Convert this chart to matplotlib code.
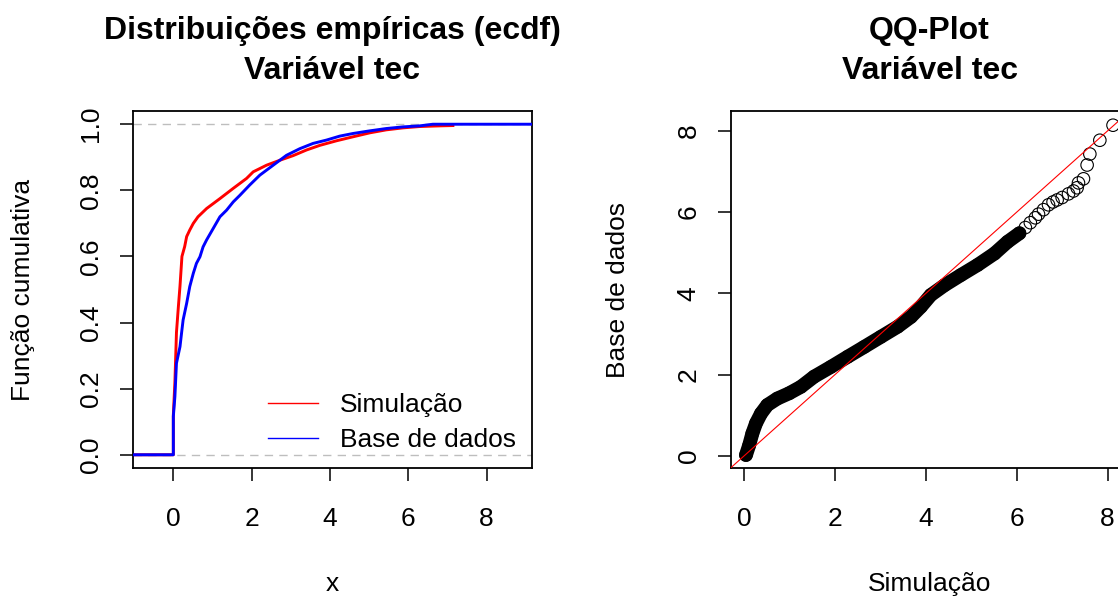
import numpy as np
import matplotlib.pyplot as plt

plt.rcParams['font.family'] = ['Liberation Sans', 'DejaVu Sans']

# ecdf curves (x, F(x)) for the simulated sample and the database sample
sim_x = [0.00, 0.00, 0.04, 0.08, 0.13, 0.17, 0.22, 0.29, 0.34, 0.42, 0.51, 0.63,
         0.85, 1.19, 1.53, 1.87, 2.04, 2.38, 2.72, 3.06, 3.40, 3.74, 4.17, 4.59,
         5.02, 5.44, 5.87, 6.29, 6.80, 7.14]
sim_F = [0.00, 0.12, 0.22, 0.37, 0.45, 0.51, 0.60, 0.63, 0.66, 0.68, 0.70, 0.72,
         0.745, 0.775, 0.806, 0.836, 0.856, 0.876, 0.891, 0.905, 0.922, 0.936, 0.950, 0.962,
         0.974, 0.983, 0.989, 0.993, 0.995, 0.996]

base_x = [0.00, 0.00, 0.04, 0.08, 0.17, 0.21, 0.25, 0.34, 0.42, 0.51, 0.59, 0.68,
          0.76, 0.85, 1.02, 1.19, 1.36, 1.53, 1.70, 1.95, 2.21, 2.55, 2.89, 3.23,
          3.57, 3.91, 4.25, 4.59, 5.02, 5.44, 5.87, 6.29, 6.63]
base_F = [0.00, 0.116, 0.176, 0.277, 0.327, 0.368, 0.408, 0.458, 0.509, 0.549, 0.579, 0.599,
          0.629, 0.650, 0.685, 0.720, 0.740, 0.765, 0.785, 0.816, 0.846, 0.876, 0.906, 0.926,
          0.942, 0.952, 0.964, 0.972, 0.980, 0.987, 0.992, 0.995, 1.0]

# quantile pairs for the qq-plot (simulation vs database)
qq_sim = [0.04, 0.11, 0.18, 0.26, 0.37, 0.51, 0.73, 0.99, 1.25, 1.54, 1.91, 2.28,
          2.64, 3.01, 3.38, 3.67, 3.89, 4.11, 4.41, 4.77, 5.14, 5.51, 5.80, 6.06,
          6.19, 6.30, 6.41, 6.48, 6.59, 6.70, 6.80, 6.89, 7.00, 7.14, 7.25, 7.33,
          7.36, 7.47, 7.55, 7.61, 7.83, 8.12]
qq_base = [0.02, 0.26, 0.55, 0.80, 1.04, 1.25, 1.41, 1.54, 1.70, 1.95, 2.19, 2.44,
           2.68, 2.93, 3.18, 3.42, 3.67, 3.96, 4.20, 4.45, 4.70, 4.98, 5.27, 5.48,
           5.62, 5.74, 5.86, 5.95, 6.06, 6.18, 6.25, 6.30, 6.36, 6.45, 6.52, 6.60,
           6.72, 6.82, 7.16, 7.43, 7.77, 8.14]
n_dense = 24  # the first quantiles are so close that the markers merge

x_ticks = [0, 2, 4, 6, 8]
y_ticks_ecdf = [0.0, 0.2, 0.4, 0.6, 0.8, 1.0]
y_ticks_qq = [0, 2, 4, 6, 8]

W, H = 1118, 596
fig = plt.figure(figsize=(W / 100, H / 100), dpi=100)
ax1 = fig.add_axes([133 / W, 1 - 468 / H, 399 / W, 357 / H])
ax2 = fig.add_axes([731 / W, 1 - 468 / H, 397 / W, 357 / H])


def style_axes(ax):
    for s in ax.spines.values():
        s.set_linewidth(1.3)
    ax.tick_params(length=9.4, width=1.1, labelsize=19, direction='out')
    ax.tick_params(axis='x', pad=19)
    ax.tick_params(axis='y', pad=12.5, labelrotation=90)
    for lab in ax.get_yticklabels():
        lab.set_va('center')


# --- ecdf panel ---
xlim1 = (-1.03, 9.16)
ax1.set_xlim(*xlim1)
ax1.set_ylim(-0.04, 1.04)
for h in (0, 1):
    ax1.axhline(h, color='#BEBEBE', lw=1.0, dashes=(6, 4.5), zorder=1)
ax1.plot(np.r_[xlim1[0], sim_x], np.r_[0, sim_F], color='red', lw=2.1,
         label='Simulação', zorder=2)
ax1.plot(np.r_[xlim1[0], base_x, xlim1[1]], np.r_[0, base_F, 1], color='blue',
         lw=2.1, label='Base de dados', zorder=3)
ax1.set_xticks(x_ticks)
ax1.set_yticks(y_ticks_ecdf)
ax1.set_yticklabels([f'{v:.1f}' for v in y_ticks_ecdf])
style_axes(ax1)
ax1.set_title('Distribuições empíricas (ecdf)\nVariável tec', fontsize=23,
              fontweight='bold', pad=23, linespacing=1.45)
ax1.set_xlabel('x', fontsize=19, va='baseline')
ax1.xaxis.set_label_coords(0.5, -(591 - 468) / 357)
ax1.set_ylabel('Função cumulativa', fontsize=19, va='center')
ax1.yaxis.set_label_coords((23 - 133) / 399, 0.5)
leg = ax1.legend(loc='upper left', bbox_to_anchor=(0.338, 0.21), frameon=False,
                 fontsize=19, handlelength=1.89, handletextpad=0.83,
                 labelspacing=0.42, borderpad=0, borderaxespad=0)
for ln in leg.get_lines():
    ln.set_linewidth(1.0)

# --- qq panel ---
ax2.set_xlim(-0.29, 8.45)
ax2.set_ylim(-0.30, 8.49)
ax2.plot(qq_sim[:n_dense], qq_base[:n_dense], color='black', lw=10,
         solid_capstyle='round', solid_joinstyle='round', zorder=2)
ax2.scatter(qq_sim, qq_base, s=9 ** 2, facecolors='none', edgecolors='black',
            linewidths=0.8, zorder=3)
ax2.axline((0, 0), slope=1, color='red', lw=0.8, zorder=4)
ax2.set_xticks(x_ticks)
ax2.set_yticks(y_ticks_qq)
style_axes(ax2)
ax2.set_title('QQ-Plot\nVariável tec', fontsize=23, fontweight='bold', pad=23,
              linespacing=1.45)
ax2.set_xlabel('Simulação', fontsize=19, va='baseline')
ax2.xaxis.set_label_coords(0.5, -(591 - 468) / 357)
ax2.set_ylabel('Base de dados', fontsize=19, va='center')
ax2.yaxis.set_label_coords((618 - 731) / 397, 0.5)

fig.savefig('out.png', dpi=100)
